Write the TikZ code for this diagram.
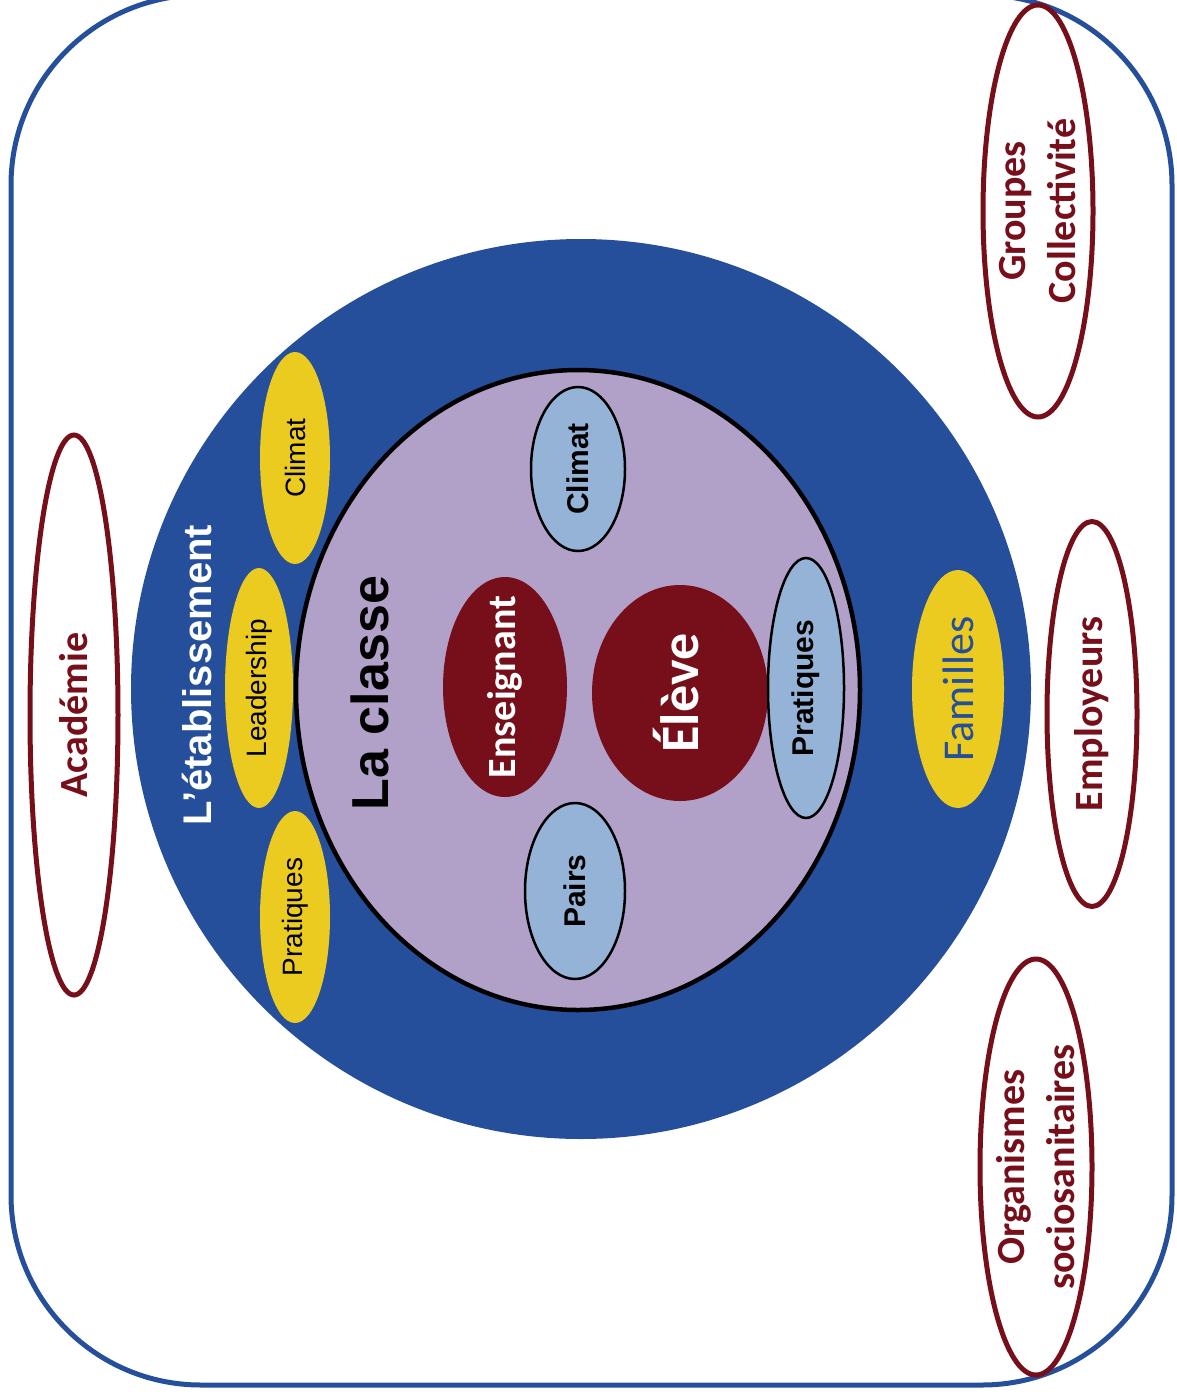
\documentclass[tikz,border=0pt]{standalone}
\usepackage{fontspec}
\setmainfont{Liberation Sans}
\newfontfamily\carl{Carlito}
\usetikzlibrary{shapes.geometric}
\definecolor{eblue}{RGB}{38,79,155}
\definecolor{lav}{RGB}{177,160,199}
\definecolor{lblue}{RGB}{149,179,215}
\definecolor{yel}{RGB}{235,203,31}
\definecolor{dred}{RGB}{119,15,27}
\begin{document}
\begin{tikzpicture}[x=1pt,y=-1pt,
  ell/.style={ellipse,inner sep=0pt,rotate=90},
  yell/.style={ell,fill=yel},
  bell/.style={ell,fill=lblue,draw=black,line width=2.5pt},
  rell/.style={ell,fill=dred},
  oell/.style={ell,draw=dred,line width=5pt},
  txt/.style={rotate=90,inner sep=0pt,align=center},
  ytxt/.style={txt,font=\fontsize{28}{34}\selectfont},
  btxt/.style={txt,font=\fontsize{30}{36}\selectfont\bfseries},
  otxt/.style={txt,text=dred,font=\fontsize{40}{50}\selectfont\carl\bfseries}]
\useasboundingbox (0,0) rectangle (1176,1397);
% outer frame
\draw[eblue,line width=5pt,rounded corners=190pt] (11,-5) rectangle (1172,1385);
% establishment circle
\node[circle,fill=eblue,minimum size=900pt,inner sep=0pt] (etab) at (581,689) {};
% class
\node[ellipse,draw=black,line width=4.5pt,fill=lav,minimum width=564pt,minimum height=640pt,inner sep=0pt] (classe) at (578,690) {};
% yellow ellipses left
\node[yell,minimum width=212pt,minimum height=70pt] (yclimat) at (295,458) {};
\node[ytxt] (tyclimat) at (yclimat) {Climat};
\node[yell,minimum width=240pt,minimum height=68pt] (ylead) at (259,688) {};
\node[ytxt] (tylead) at (ylead) {Leadership};
\node[yell,minimum width=212pt,minimum height=70pt] (yprat) at (295,917) {};
\node[ytxt] (typrat) at (yprat) {Pratiques};
% familles
\node[yell,minimum width=238pt,minimum height=92pt] (fam) at (958,689) {};
\node[txt,text=eblue,font=\fontsize{44}{50}\selectfont\carl] (tfam) at (fam) {Familles};
% labels
\node[txt,text=white,font=\fontsize{40}{48}\selectfont\bfseries] (tetab) at (197,675) {L’établissement};
\node[txt,text=black,font=\fontsize{52}{60}\selectfont\bfseries] (tclasse) at (370,693) {La classe};
% dark red
\node[rell,minimum width=220pt,minimum height=124pt] (ens) at (505,687) {};
\node[txt,text=white,font=\fontsize{40}{48}\selectfont\carl\bfseries] (tens) at (ens) {Enseignant};
\node[rell,minimum width=216pt,minimum height=176pt] (eleve) at (680,693) {};
\node[txt,text=white,font=\fontsize{54}{60}\selectfont\carl\bfseries] (televe) at (676,693) {Élève};
% light blue
\node[bell,minimum width=164pt,minimum height=94pt] (bclimat) at (578,469) {};
\node[btxt] (tbclimat) at (bclimat) {Climat};
\node[bell,minimum width=260pt,minimum height=76pt] (bprat) at (806,688) {};
\node[btxt] (tbprat) at (bprat) {Pratiques};
\node[bell,minimum width=176pt,minimum height=100pt] (bpairs) at (575,891) {};
\node[btxt] (tbpairs) at (bpairs) {Pairs};
% outer community ellipses
\node[oell,minimum width=560pt,minimum height=88pt] (acad) at (74,715) {};
\node[otxt] (tacad) at (acad) {Académie};
\node[oell,minimum width=412pt,minimum height=110pt] (grp) at (1038,211) {};
\node[otxt] (tgrp) at (grp) {Groupes\\Collectivité};
\node[oell,minimum width=385pt,minimum height=90pt] (emp) at (1092,714) {};
\node[otxt] (temp) at (emp) {Employeurs};
\node[oell,minimum width=416pt,minimum height=112pt] (org) at (1036,1167) {};
\node[otxt] (torg) at (org) {Organismes\\sociosanitaires};
\end{tikzpicture}
\end{document}
